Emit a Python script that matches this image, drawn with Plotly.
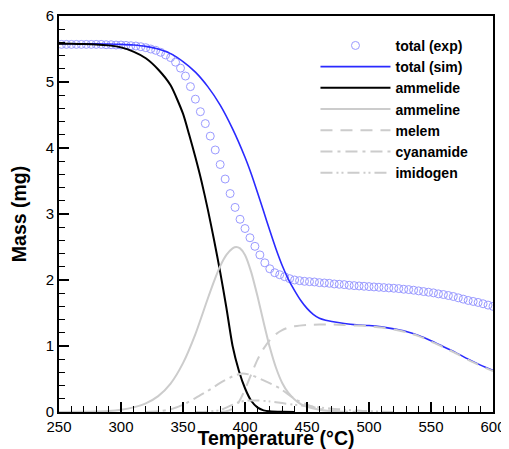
import plotly.graph_objects as go

# ---------------- data ----------------
exp_T = list(range(252, 601, 4))
exp_mass = [5.57, 5.57, 5.57, 5.57, 5.57, 5.57, 5.57, 5.57, 5.57, 5.565,
            5.565, 5.56, 5.56, 5.555, 5.55, 5.545, 5.535, 5.52, 5.50, 5.48,
            5.45, 5.41, 5.37, 5.30, 5.21, 5.09, 4.93, 4.74, 4.55, 4.37,
            4.18, 3.97, 3.75, 3.53, 3.31, 3.10, 2.92, 2.78, 2.64, 2.51,
            2.38, 2.26, 2.17, 2.11, 2.08, 2.05, 2.02, 2.00, 1.99, 1.98,
            1.975, 1.97, 1.96, 1.955, 1.95, 1.94, 1.935, 1.93, 1.92, 1.915,
            1.91, 1.905, 1.90, 1.895, 1.89, 1.885, 1.88, 1.875, 1.87, 1.86,
            1.855, 1.845, 1.835, 1.825, 1.815, 1.805, 1.79, 1.78, 1.765, 1.75,
            1.73, 1.71, 1.69, 1.675, 1.66, 1.64, 1.62, 1.60]

sim_T = [250, 260, 270, 280, 290, 300, 310, 320, 330, 340, 350, 360, 370, 380, 390,
         400, 405, 410, 415, 420, 425, 430, 435, 440, 445, 450, 455, 460, 465, 470,
         480, 490, 500, 510, 520, 530, 540, 550, 560, 570, 580, 590, 600]
sim_mass = [5.58, 5.58, 5.58, 5.578, 5.575, 5.57, 5.56, 5.54, 5.50, 5.43, 5.31, 5.15,
            4.93, 4.65, 4.29, 3.86, 3.61, 3.33, 3.04, 2.75, 2.47, 2.22, 2.01, 1.84,
            1.69, 1.57, 1.48, 1.42, 1.39, 1.37, 1.34, 1.32, 1.31, 1.29, 1.26, 1.22,
            1.16, 1.08, 0.99, 0.90, 0.80, 0.71, 0.63]

ammelide_T = [250, 260, 270, 280, 290, 300, 310, 320, 330, 340, 350, 355, 360, 365,
              370, 375, 380, 385, 390, 395, 400, 405, 410, 415, 420, 430, 440]
ammelide_mass = [5.578, 5.578, 5.575, 5.57, 5.555, 5.525, 5.46, 5.36, 5.19, 4.95,
                 4.52, 4.20, 3.86, 3.49, 3.07, 2.61, 2.12, 1.58, 1.00, 0.63, 0.36,
                 0.17, 0.07, 0.025, 0.01, 0.002, 0.0]

ammeline_T = [250, 270, 280, 290, 300, 310, 320, 330, 340, 350, 360, 370, 375, 380,
              385, 390, 393, 396, 400, 405, 410, 415, 420, 425, 430, 435, 440, 445,
              450, 460, 470, 480]
ammeline_mass = [0.0, 0.002, 0.006, 0.015, 0.035, 0.07, 0.13, 0.24, 0.43, 0.74, 1.18,
                 1.72, 1.98, 2.21, 2.38, 2.48, 2.50, 2.48, 2.38, 2.12, 1.76, 1.36,
                 0.98, 0.67, 0.44, 0.29, 0.19, 0.12, 0.08, 0.035, 0.012, 0.003]

melem_T = [380, 385, 390, 395, 400, 405, 410, 415, 420, 425, 430, 435, 440, 450, 460,
           470, 480, 490, 500, 510, 520, 530, 540, 550, 560, 570, 580, 590, 600]
melem_mass = [0.0, 0.01, 0.05, 0.15, 0.34, 0.57, 0.79, 0.96, 1.09, 1.18, 1.24, 1.28,
              1.30, 1.32, 1.325, 1.325, 1.32, 1.31, 1.30, 1.28, 1.25, 1.21, 1.15,
              1.07, 0.98, 0.89, 0.79, 0.70, 0.62]

cyanamide_T = [320, 330, 340, 350, 360, 370, 380, 390, 398, 405, 415, 428, 440, 450,
               460, 470, 480, 490]
cyanamide_mass = [0.0, 0.01, 0.04, 0.11, 0.21, 0.32, 0.44, 0.54, 0.585, 0.56, 0.48,
                  0.36, 0.20, 0.11, 0.05, 0.02, 0.007, 0.0]

imidogen_T = [360, 370, 380, 390, 395, 400, 410, 420, 430, 440, 450, 460, 470, 480,
              490, 500, 510, 520]
imidogen_mass = [0.0, 0.005, 0.03, 0.11, 0.15, 0.17, 0.175, 0.16, 0.135, 0.11, 0.09,
                 0.07, 0.05, 0.035, 0.022, 0.012, 0.005, 0.0]

x_ticks = [250, 300, 350, 400, 450, 500, 550, 600]
y_ticks = [0, 1, 2, 3, 4, 5, 6]

# ---------------- figure ----------------
GRAY = "#cccccc"
FONT = "Arial, Liberation Sans, sans-serif"
fig = go.Figure()

fig.add_trace(go.Scatter(x=exp_T, y=exp_mass, mode="markers", name="total (exp)",
                         marker=dict(symbol="circle-open", size=8,
                                     color="#9a9aff", line=dict(width=1))))
fig.add_trace(go.Scatter(x=sim_T, y=sim_mass, mode="lines", name="total (sim)",
                         line=dict(color="#2a2aff", width=1.6, shape="spline", smoothing=0.6)))
fig.add_trace(go.Scatter(x=ammelide_T, y=ammelide_mass, mode="lines", name="ammelide",
                         line=dict(color="black", width=2, shape="spline", smoothing=0.6)))
fig.add_trace(go.Scatter(x=ammeline_T, y=ammeline_mass, mode="lines", name="ammeline",
                         line=dict(color=GRAY, width=2, shape="spline", smoothing=0.6)))
fig.add_trace(go.Scatter(x=melem_T, y=melem_mass, mode="lines", name="melem",
                         line=dict(color=GRAY, width=2, dash="12px,8px", shape="spline", smoothing=0.6)))
fig.add_trace(go.Scatter(x=cyanamide_T, y=cyanamide_mass, mode="lines", name="cyanamide",
                         line=dict(color=GRAY, width=2, dash="12px,5px,3px,5px", shape="spline", smoothing=0.6)))
fig.add_trace(go.Scatter(x=imidogen_T, y=imidogen_mass, mode="lines", name="imidogen",
                         line=dict(color=GRAY, width=2, dash="12px,4px,2px,3px,2px,4px", shape="spline", smoothing=0.6)))

axis_common = dict(
    showline=True, linecolor="black", linewidth=2, mirror=True,
    ticks="inside", ticklen=10, tickwidth=2, tickcolor="black",
    showgrid=False, zeroline=False, automargin=False,
    ticklabeloverflow="allow",
    tickfont=dict(family=FONT, size=15, color="black"),
)

fig.update_xaxes(range=[250, 600], tickmode="array", tickvals=x_ticks,
                 minor=dict(ticks="inside", ticklen=6, tickwidth=1, tickcolor="black",
                            tickmode="linear", tick0=250, dtick=10, showgrid=False),
                 title=dict(text="<b>Temperature (°C)</b>", standoff=1,
                            font=dict(family=FONT, size=19.5, color="black")),
                 **axis_common)
fig.update_yaxes(range=[0, 6], tickmode="array", tickvals=y_ticks,
                 minor=dict(ticks="inside", ticklen=6, tickwidth=1, tickcolor="black",
                            tickmode="linear", tick0=0, dtick=0.2, showgrid=False),
                 title=dict(text="<b>Mass (mg)</b>", standoff=15,
                            font=dict(family=FONT, size=19.5, color="black")),
                 **axis_common)

# the page body adds an 8 px margin, so the figure is sized to fit the window
fig.update_layout(
    width=501, height=441,
    margin=dict(l=51, r=16, t=8, b=37),
    plot_bgcolor="white", paper_bgcolor="white",
    showlegend=True,
    legend=dict(x=0.955, y=0.965, xanchor="right", yanchor="top",
                bgcolor="rgba(0,0,0,0)", borderwidth=0,
                font=dict(family=FONT, size=14, color="black", weight="bold"),
                itemwidth=70, tracegroupgap=0),
)

fig.write_html("out.html")
